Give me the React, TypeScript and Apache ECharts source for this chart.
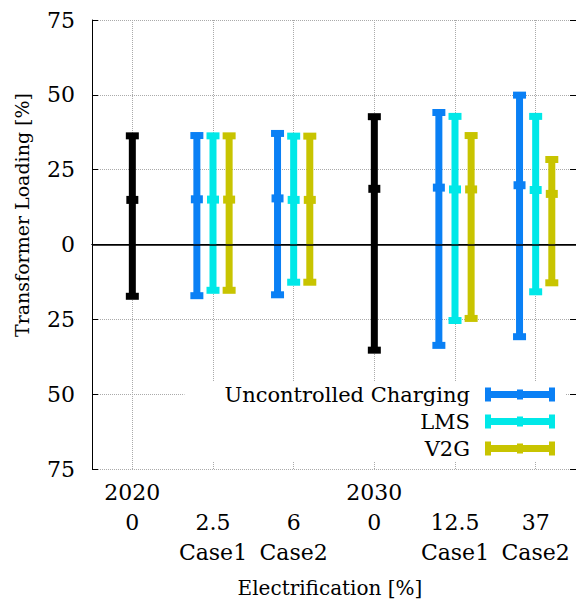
import React, { useEffect, useRef } from "react";
import * as echarts from "echarts";

const categories = ["2020\n0\n ", " \n2.5\nCase1", " \n6\nCase2", "2030\n0\n ", " \n12.5\nCase1", " \n37\nCase2"];
const yTicks = [-75, -50, -25, 0, 25, 50, 75];
// [categoryIndex, min, mean, max]
const baseline = [
  [0, -17.3, 14.9, 36.3],
  [3, -35.3, 18.6, 42.7],
];
const uncontrolled = [
  [1, -17.1, 15.1, 36.4],
  [2, -16.8, 15.4, 37.1],
  [4, -33.7, 19.0, 44.1],
  [5, -30.8, 19.8, 49.9],
];
const lms = [
  [1, -15.3, 15.0, 36.3],
  [2, -12.6, 14.9, 36.2],
  [4, -25.4, 18.4, 42.8],
  [5, -15.8, 18.2, 42.8],
];
const v2g = [
  [1, -15.3, 15.0, 36.3],
  [2, -12.6, 14.9, 36.2],
  [4, -24.7, 18.4, 36.4],
  [5, -12.8, 16.9, 28.4],
];
const seriesNames = ["Uncontrolled Charging", "LMS", "V2G"];
const seriesColors = ["#0a80f5", "#00e8e8", "#c8c400"];

const FONT = "DejaVu Serif";
const ICON =
  "path://M0 0H6V3.5H32V2H38V3.5H64V0H70V14H64V10.5H38V12H32V10.5H6V14H0Z";

function makeRender(offset: number) {
  return (params: any, api: any) => {
    const idx = api.value(0);
    const lo = api.value(1);
    const mean = api.value(2);
    const hi = api.value(3);
    const band = api.size([1, 0])[0];
    const x = api.coord([idx, 0])[0] + offset * band;
    const yLo = api.coord([idx, lo])[1];
    const yMean = api.coord([idx, mean])[1];
    const yHi = api.coord([idx, hi])[1];
    const color = api.visual("color");
    const style = { fill: color };
    return {
      type: "group",
      children: [
        { type: "rect", shape: { x: x - 3.5, y: yHi, width: 7, height: yLo - yHi }, style },
        { type: "rect", shape: { x: x - 6.5, y: yHi - 3.5, width: 13, height: 7 }, style },
        { type: "rect", shape: { x: x - 6.5, y: yLo - 3.5, width: 13, height: 7 }, style },
        { type: "rect", shape: { x: x - 6, y: yMean - 4, width: 12, height: 8 }, style },
      ],
    };
  };
}

export default function App() {
  const ref = useRef<HTMLDivElement>(null);
  useEffect(() => {
    const chart = echarts.init(ref.current!, null, { renderer: "svg" });
    const groups = [uncontrolled, lms, v2g];
    const offsets = [-0.2, 0, 0.2];
    chart.setOption({
      animation: false,
      textStyle: { fontFamily: FONT },
      grid: { left: 92, top: 20, right: -5, bottom: 134 },
      xAxis: [
        {
          type: "category",
          data: categories,
          boundaryGap: true,
          axisLine: { lineStyle: { color: "#000", width: 1 } },
          axisTick: { inside: true, length: 6, alignWithLabel: true, lineStyle: { color: "#000" } },
          axisLabel: {
            fontFamily: FONT,
            fontSize: 22,
            color: "#000",
            lineHeight: 30,
            margin: 8,
            interval: 0,
          },
          splitLine: {
            show: true,
            alignWithLabel: true,
            lineStyle: { type: "dotted", color: "#aaa" },
          },
        },
        {
          type: "category",
          data: categories,
          position: "top",
          axisLine: { lineStyle: { color: "#000", width: 1 } },
          axisTick: { inside: true, length: 6, alignWithLabel: true, lineStyle: { color: "#000" } },
          axisLabel: { show: false },
          splitLine: { show: false },
        },
      ],
      yAxis: [
        {
          type: "value",
          min: yTicks[0],
          max: yTicks[yTicks.length - 1],
          interval: 25,
          axisLine: { show: true, lineStyle: { color: "#000", width: 1 } },
          axisTick: { show: true, inside: true, length: 6, lineStyle: { color: "#000" } },
          axisLabel: {
            fontFamily: FONT,
            fontSize: 22,
            color: "#000",
            margin: 17,
            formatter: (v: number) => String(Math.abs(v)),
          },
          splitLine: { show: true, lineStyle: { type: "dotted", color: "#aaa" } },
        },
        {
          type: "value",
          position: "right",
          min: yTicks[0],
          max: yTicks[yTicks.length - 1],
          interval: 25,
          axisLine: { show: true, lineStyle: { color: "#000", width: 1 } },
          axisTick: { show: true, inside: true, length: 6, lineStyle: { color: "#000" } },
          axisLabel: { show: false },
          splitLine: { show: false },
        },
      ],
      legend: {
        orient: "vertical",
        right: 10,
        top: 381,
        align: "right",
        itemWidth: 70,
        itemHeight: 14,
        itemGap: 6,
        backgroundColor: "#fff",
        padding: [3, 11, 3, 40],
        textStyle: { fontFamily: FONT, fontSize: 21, color: "#000", padding: [0, 10, 0, 0] },
        data: seriesNames.map((n) => ({ name: n, icon: ICON })),
      },
      graphic: [
        {
          type: "text",
          x: 22,
          y: 215,
          rotation: Math.PI / 2,
          style: {
            text: "Transformer Loading [%]",
            fontFamily: FONT,
            fontSize: 19,
            fill: "#000",
            textAlign: "center",
            textVerticalAlign: "middle",
          },
        },
        {
          type: "text",
          x: 330,
          y: 588,
          style: {
            text: "Electrification [%]",
            fontFamily: FONT,
            fontSize: 20,
            fill: "#000",
            textAlign: "center",
            textVerticalAlign: "middle",
          },
        },
      ],
      series: [
        {
          type: "custom",
          name: "baseline",
          itemStyle: { color: "#000" },
          renderItem: makeRender(0),
          encode: { x: 0, y: [1, 2, 3] },
          data: baseline,
          markLine: {
            silent: true,
            symbol: "none",
            label: { show: false },
            lineStyle: { color: "#000", type: "solid", width: 1.5 },
            data: [{ yAxis: 0 }],
          },
        },
        ...groups.map((g, i) => ({
          type: "custom",
          name: seriesNames[i],
          itemStyle: { color: seriesColors[i] },
          renderItem: makeRender(offsets[i]),
          encode: { x: 0, y: [1, 2, 3] },
          data: g,
        })),
      ],
    });
    return () => chart.dispose();
  }, []);
  return <div ref={ref} style={{ width: 576, height: 603, position: "absolute", left: 0, top: 0 }} />;
}
